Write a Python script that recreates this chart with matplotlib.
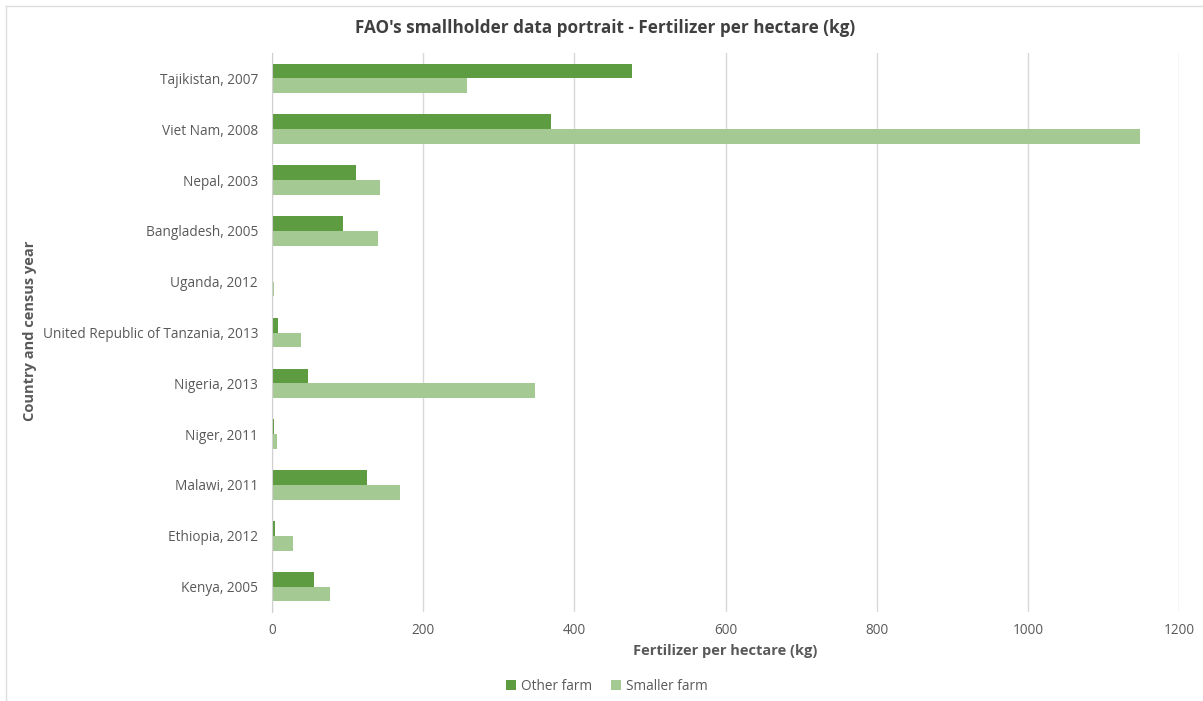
import matplotlib.pyplot as plt
import matplotlib.lines as mlines
import numpy as np

plt.rcParams['font.family'] = ['Open Sans', 'DejaVu Sans']

countries = ['Tajikistan, 2007', 'Viet Nam, 2008', 'Nepal, 2003', 'Bangladesh, 2005',
             'Uganda, 2012', 'United Republic of Tanzania, 2013', 'Nigeria, 2013',
             'Niger, 2011', 'Malawi, 2011', 'Ethiopia, 2012', 'Kenya, 2005']
other_farm = [476, 369, 111, 94, 0, 8, 48, 2.5, 126, 3.5, 56]
smaller_farm = [258, 1148, 143, 140, 2, 39, 348, 6, 169, 28, 77]
xticks = [0, 200, 400, 600, 800, 1000, 1200]

c_other = '#5e9c42'
c_small = '#a4c992'
txt = '#595959'

W, H = 1203, 701
fig = plt.figure(figsize=(W/100, H/100), dpi=100)
# chart border (top and left edges only visible)
fig.add_artist(mlines.Line2D([6/W, 1], [1 - 6/H, 1 - 6/H], color='#dedede', lw=1))
fig.add_artist(mlines.Line2D([6/W, 6/W], [0, 1 - 6/H], color='#dedede', lw=1))

ax = fig.add_axes([272/W, 1 - 612/H, 907/W, 559/H])

y = np.arange(len(countries))
h = 0.29
ax.barh(y - h/2, other_farm, height=h, color=c_other, label='Other farm')
ax.barh(y + h/2, smaller_farm, height=h, color=c_small, label='Smaller farm')

ax.set_ylim(len(countries) - 0.5, -0.5)
ax.set_xlim(0, 1200)
ax.set_xticks(xticks)
ax.set_yticks(y)
ax.set_yticklabels(countries)
ax.tick_params(axis='both', length=0, colors=txt, labelsize=9.8)
ax.tick_params(axis='x', pad=8)
ax.tick_params(axis='y', pad=10)
ax.grid(axis='x', color='#d9d9d9', linewidth=1)
ax.set_axisbelow(True)
for s in ['top', 'right', 'bottom']:
    ax.spines[s].set_visible(False)
ax.spines['left'].set_color('#d0d0d0')

ax.set_xlabel('Fertilizer per hectare (kg)', fontsize=10.5, fontweight='bold', color=txt, labelpad=4)
fig.text(30/W, 1 - 331/H, 'Country and census year', rotation=90, ha='center', va='center',
         fontsize=10.5, fontweight='bold', color=txt)
fig.text(605/W, 1 - 28/H, "FAO's smallholder data portrait - Fertilizer per hectare (kg)",
         ha='center', va='center', fontsize=12.3, fontweight='bold', color='#404040')

fig.legend(loc='center', bbox_to_anchor=(607/W, 1 - 686/H), ncol=2, frameon=False,
           fontsize=9.8, labelcolor=txt, handlelength=0.7, handleheight=0.7, columnspacing=1.4,
           handletextpad=0.4)

fig.savefig('out.png', dpi=100)
